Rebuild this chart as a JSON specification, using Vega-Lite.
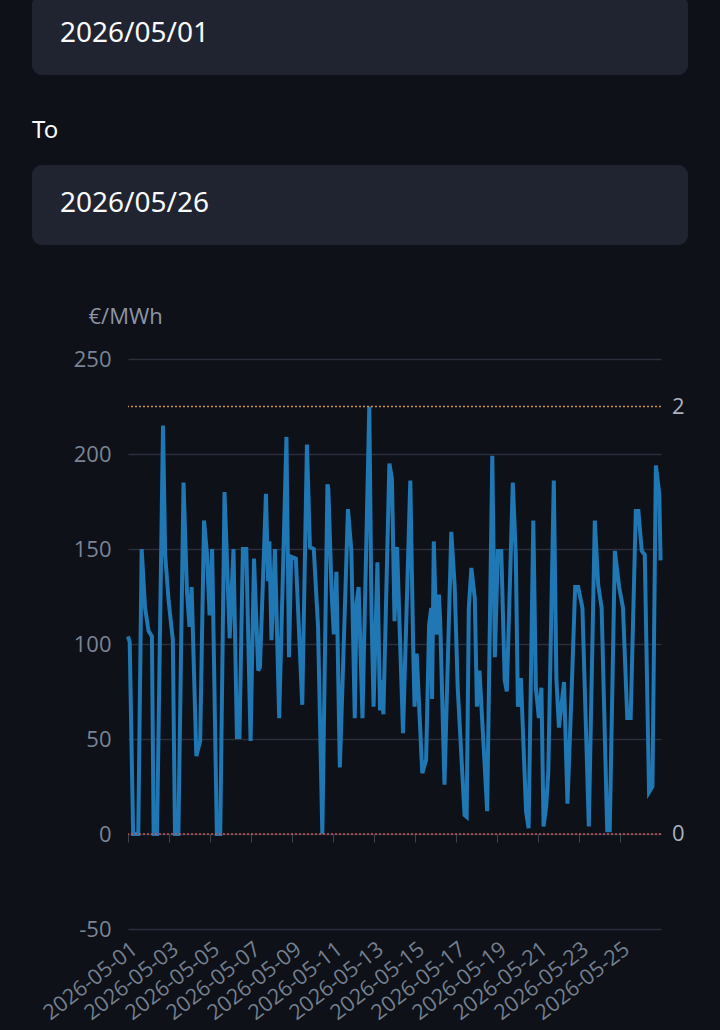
{
  "$schema": "https://vega.github.io/schema/vega-lite/v6.json",
  "background": "#0e1117",
  "padding": {"left": 32, "top": -5, "right": 32, "bottom": 8},
  "spacing": 60,
  "config": {"view": {"stroke": null}, "font": "Open Sans"},
  "vconcat": [
    {
      "width": 533,
      "height": 245,
      "data": {"values": [{"field": "From", "date": "2026/05/01"}, {"field": "To", "date": "2026/05/26"}]},
      "encoding": {
        "y": {"field": "field", "type": "nominal", "axis": null,
              "scale": {"type": "band", "domain": ["From", "To"], "range": [-5, 245], "paddingInner": 0.529, "paddingOuter": 0}}
      },
      "layer": [
        {"mark": {"type": "rect", "fill": "#1f2430", "cornerRadius": 10},
         "encoding": {"x": {"value": -96}, "x2": {"value": 560}}},
        {"transform": [{"filter": "datum.field === 'To'"}],
         "mark": {"type": "text", "align": "left", "baseline": "middle", "dy": -74, "fontSize": 24, "color": "#fafafa", "font": "Noto Sans"},
         "encoding": {"x": {"value": -96}, "text": {"field": "field"}}},
        {"mark": {"type": "text", "align": "left", "baseline": "middle", "dy": -1, "fontSize": 28, "color": "#fafafa", "font": "Noto Sans"},
         "encoding": {"x": {"value": -68}, "text": {"field": "date"}}}
      ]
    },
    {
      "width": 533,
      "height": 570,
      "encoding": {
        "y": {"field": "v", "type": "quantitative",
              "scale": {"domain": [-50, 250], "nice": false, "zero": false},
              "axis": {"values": [-50, 0, 50, 100, 150, 200, 250], "labelExpr": "'' + datum.value", "grid": true, "gridColor": "#2a2f3a", "gridWidth": 1.5,
                       "domain": false, "ticks": false, "labelFontSize": 22, "labelColor": "#7a8494", "labelPadding": 17,
                       "title": "€/MWh", "titleAngle": 0, "titleAlign": "left", "titleBaseline": "alphabetic",
                       "titleX": -40, "titleY": -36, "titleFontSize": 22, "titleFontWeight": "normal", "titleColor": "#8c95a5"}}
      },
      "layer": [
        {
          "data": {
            "format": {"parse": {"t": "utc:'%Y-%m-%d %H:%M'"}},
            "values": [
              {"t": "2026-05-01 00:00", "v": 104}, {"t": "2026-05-01 02:00", "v": 101}, {"t": "2026-05-01 06:00", "v": 0}, {"t": "2026-05-01 12:00", "v": 0},
              {"t": "2026-05-01 16:00", "v": 150}, {"t": "2026-05-01 20:00", "v": 119}, {"t": "2026-05-02 00:00", "v": 107}, {"t": "2026-05-02 04:00", "v": 104},
              {"t": "2026-05-02 06:00", "v": 0}, {"t": "2026-05-02 10:00", "v": 0}, {"t": "2026-05-02 17:00", "v": 215}, {"t": "2026-05-02 19:30", "v": 147},
              {"t": "2026-05-02 23:30", "v": 123}, {"t": "2026-05-03 04:30", "v": 102}, {"t": "2026-05-03 07:00", "v": 0}, {"t": "2026-05-03 11:00", "v": 0},
              {"t": "2026-05-03 17:00", "v": 185}, {"t": "2026-05-03 21:00", "v": 128}, {"t": "2026-05-04 00:00", "v": 109}, {"t": "2026-05-04 02:30", "v": 130},
              {"t": "2026-05-04 08:00", "v": 41}, {"t": "2026-05-04 12:30", "v": 49}, {"t": "2026-05-04 17:00", "v": 165}, {"t": "2026-05-04 20:30", "v": 147},
              {"t": "2026-05-04 23:30", "v": 115}, {"t": "2026-05-05 02:30", "v": 150}, {"t": "2026-05-05 08:00", "v": 0}, {"t": "2026-05-05 12:00", "v": 0},
              {"t": "2026-05-05 17:00", "v": 180}, {"t": "2026-05-05 19:30", "v": 149}, {"t": "2026-05-05 23:00", "v": 103}, {"t": "2026-05-06 03:30", "v": 150},
              {"t": "2026-05-06 07:30", "v": 51}, {"t": "2026-05-06 10:30", "v": 51}, {"t": "2026-05-06 14:30", "v": 150}, {"t": "2026-05-06 18:30", "v": 150},
              {"t": "2026-05-06 20:00", "v": 119}, {"t": "2026-05-06 23:30", "v": 49}, {"t": "2026-05-07 03:30", "v": 145}, {"t": "2026-05-07 08:30", "v": 86},
              {"t": "2026-05-07 10:30", "v": 88}, {"t": "2026-05-07 17:30", "v": 179}, {"t": "2026-05-07 20:00", "v": 133}, {"t": "2026-05-07 21:30", "v": 154},
              {"t": "2026-05-08 00:00", "v": 102}, {"t": "2026-05-08 04:00", "v": 150}, {"t": "2026-05-08 09:00", "v": 61}, {"t": "2026-05-08 17:30", "v": 209},
              {"t": "2026-05-08 20:30", "v": 93}, {"t": "2026-05-08 23:00", "v": 146}, {"t": "2026-05-09 04:30", "v": 145}, {"t": "2026-05-09 12:00", "v": 68},
              {"t": "2026-05-09 17:30", "v": 205}, {"t": "2026-05-09 21:00", "v": 151}, {"t": "2026-05-10 01:30", "v": 150}, {"t": "2026-05-10 06:30", "v": 109},
              {"t": "2026-05-10 11:30", "v": 0}, {"t": "2026-05-10 17:30", "v": 184}, {"t": "2026-05-10 18:30", "v": 182}, {"t": "2026-05-10 22:30", "v": 126},
              {"t": "2026-05-11 01:00", "v": 105}, {"t": "2026-05-11 04:00", "v": 138}, {"t": "2026-05-11 08:00", "v": 35}, {"t": "2026-05-11 11:00", "v": 77},
              {"t": "2026-05-11 17:30", "v": 171}, {"t": "2026-05-11 21:30", "v": 149}, {"t": "2026-05-12 01:30", "v": 61}, {"t": "2026-05-12 03:30", "v": 121},
              {"t": "2026-05-12 06:00", "v": 130}, {"t": "2026-05-12 10:30", "v": 61}, {"t": "2026-05-12 18:30", "v": 225}, {"t": "2026-05-12 21:00", "v": 119},
              {"t": "2026-05-12 23:30", "v": 67}, {"t": "2026-05-13 04:00", "v": 143}, {"t": "2026-05-13 07:00", "v": 65}, {"t": "2026-05-13 09:00", "v": 81},
              {"t": "2026-05-13 11:00", "v": 63}, {"t": "2026-05-13 18:00", "v": 195}, {"t": "2026-05-13 21:00", "v": 187}, {"t": "2026-05-14 00:00", "v": 112},
              {"t": "2026-05-14 03:00", "v": 151}, {"t": "2026-05-14 10:00", "v": 53}, {"t": "2026-05-14 18:30", "v": 186}, {"t": "2026-05-14 22:00", "v": 95},
              {"t": "2026-05-14 23:30", "v": 67}, {"t": "2026-05-15 02:00", "v": 95}, {"t": "2026-05-15 08:30", "v": 32}, {"t": "2026-05-15 13:00", "v": 39},
              {"t": "2026-05-15 16:30", "v": 110}, {"t": "2026-05-15 19:00", "v": 119}, {"t": "2026-05-15 20:00", "v": 71}, {"t": "2026-05-15 22:00", "v": 154},
              {"t": "2026-05-16 01:00", "v": 105}, {"t": "2026-05-16 04:00", "v": 126}, {"t": "2026-05-16 05:30", "v": 112}, {"t": "2026-05-16 10:30", "v": 26},
              {"t": "2026-05-16 18:30", "v": 159}, {"t": "2026-05-16 22:30", "v": 130}, {"t": "2026-05-17 02:00", "v": 77}, {"t": "2026-05-17 10:00", "v": 10},
              {"t": "2026-05-17 12:30", "v": 9}, {"t": "2026-05-17 15:00", "v": 119}, {"t": "2026-05-17 18:00", "v": 140}, {"t": "2026-05-17 22:00", "v": 124},
              {"t": "2026-05-18 00:30", "v": 67}, {"t": "2026-05-18 03:30", "v": 86}, {"t": "2026-05-18 12:30", "v": 12}, {"t": "2026-05-18 18:30", "v": 199},
              {"t": "2026-05-18 21:30", "v": 93}, {"t": "2026-05-19 01:00", "v": 149}, {"t": "2026-05-19 05:00", "v": 149}, {"t": "2026-05-19 09:00", "v": 81},
              {"t": "2026-05-19 11:30", "v": 75}, {"t": "2026-05-19 18:30", "v": 185}, {"t": "2026-05-19 22:00", "v": 147}, {"t": "2026-05-20 00:30", "v": 67},
              {"t": "2026-05-20 04:00", "v": 82}, {"t": "2026-05-20 10:00", "v": 12}, {"t": "2026-05-20 13:00", "v": 3}, {"t": "2026-05-20 18:30", "v": 165},
              {"t": "2026-05-20 21:30", "v": 77}, {"t": "2026-05-21 01:00", "v": 61}, {"t": "2026-05-21 04:00", "v": 77}, {"t": "2026-05-21 06:30", "v": 4},
              {"t": "2026-05-21 09:30", "v": 14}, {"t": "2026-05-21 12:00", "v": 32}, {"t": "2026-05-21 18:30", "v": 186}, {"t": "2026-05-21 21:30", "v": 82},
              {"t": "2026-05-22 00:30", "v": 56}, {"t": "2026-05-22 06:30", "v": 80}, {"t": "2026-05-22 10:30", "v": 16}, {"t": "2026-05-22 15:30", "v": 77},
              {"t": "2026-05-22 19:30", "v": 130}, {"t": "2026-05-22 23:00", "v": 130}, {"t": "2026-05-23 04:00", "v": 119}, {"t": "2026-05-23 11:30", "v": 4},
              {"t": "2026-05-23 18:30", "v": 165}, {"t": "2026-05-23 22:30", "v": 131}, {"t": "2026-05-24 02:30", "v": 119}, {"t": "2026-05-24 09:00", "v": 2},
              {"t": "2026-05-24 12:00", "v": 2}, {"t": "2026-05-24 18:00", "v": 149}, {"t": "2026-05-24 23:00", "v": 130}, {"t": "2026-05-25 03:30", "v": 119},
              {"t": "2026-05-25 08:30", "v": 61}, {"t": "2026-05-25 12:30", "v": 61}, {"t": "2026-05-25 18:30", "v": 170}, {"t": "2026-05-25 21:30", "v": 170},
              {"t": "2026-05-26 01:30", "v": 149}, {"t": "2026-05-26 05:00", "v": 147}, {"t": "2026-05-26 10:00", "v": 22}, {"t": "2026-05-26 14:00", "v": 25},
              {"t": "2026-05-26 18:00", "v": 194}, {"t": "2026-05-26 22:00", "v": 179}, {"t": "2026-05-26 23:30", "v": 144}
            ]
          },
          "mark": {"type": "line", "color": "#1f77b4", "strokeWidth": 4},
          "encoding": {
            "x": {"field": "t", "type": "temporal",
                  "scale": {"type": "utc", "domain": [{"year": 2026, "month": 5, "date": 1, "utc": true}, {"year": 2026, "month": 5, "date": 27, "utc": true}]},
                  "axis": {"orient": "bottom", "title": null,
                           "values": [{"year": 2026, "month": 5, "date": 1, "utc": true}, {"year": 2026, "month": 5, "date": 3, "utc": true}, {"year": 2026, "month": 5, "date": 5, "utc": true}, {"year": 2026, "month": 5, "date": 7, "utc": true}, {"year": 2026, "month": 5, "date": 9, "utc": true}, {"year": 2026, "month": 5, "date": 11, "utc": true}, {"year": 2026, "month": 5, "date": 13, "utc": true}, {"year": 2026, "month": 5, "date": 15, "utc": true}, {"year": 2026, "month": 5, "date": 17, "utc": true}, {"year": 2026, "month": 5, "date": 19, "utc": true}, {"year": 2026, "month": 5, "date": 21, "utc": true}, {"year": 2026, "month": 5, "date": 23, "utc": true}, {"year": 2026, "month": 5, "date": 25, "utc": true}],
                           "format": "%Y-%m-%d", "labelAngle": -38, "labelFontSize": 21.5, "labelColor": "#74808f", "labelPadding": 9,
                           "labelOverlap": false, "labelFlush": false, "labelBound": false, "ticks": false, "domain": false, "grid": false}}
          }
        },
        {
          "data": {"values": [{"name": "max", "v": 225, "label": "225"}, {"name": "min", "v": 0, "label": "0"}]},
          "mark": {"type": "rule", "strokeDash": [2, 2], "strokeWidth": 1.5},
          "encoding": {"color": {"field": "name", "type": "nominal", "scale": {"domain": ["max", "min"], "range": ["#d0903c", "#c25a5c"]}, "legend": null}}
        },
        {
          "data": {"values": [{"name": "max", "v": 225, "label": "225"}, {"name": "min", "v": 0, "label": "0"}]},
          "mark": {"type": "text", "align": "left", "baseline": "middle", "dx": 11, "fontSize": 22, "color": "#aab2be", "limit": 20, "ellipsis": " "},
          "encoding": {
            "x": {"datum": {"year": 2026, "month": 5, "date": 27, "utc": true}, "type": "temporal", "scale": {"type": "utc"},
                  "axis": {"orient": "bottom", "title": null, "offset": -95,
                           "values": [{"year": 2026, "month": 5, "date": 1, "utc": true}, {"year": 2026, "month": 5, "date": 3, "utc": true}, {"year": 2026, "month": 5, "date": 5, "utc": true}, {"year": 2026, "month": 5, "date": 7, "utc": true}, {"year": 2026, "month": 5, "date": 9, "utc": true}, {"year": 2026, "month": 5, "date": 11, "utc": true}, {"year": 2026, "month": 5, "date": 13, "utc": true}, {"year": 2026, "month": 5, "date": 15, "utc": true}, {"year": 2026, "month": 5, "date": 17, "utc": true}, {"year": 2026, "month": 5, "date": 19, "utc": true}, {"year": 2026, "month": 5, "date": 21, "utc": true}, {"year": 2026, "month": 5, "date": 23, "utc": true}, {"year": 2026, "month": 5, "date": 25, "utc": true}],
                           "labels": false, "ticks": true, "tickSize": 8, "tickColor": "#3b4250", "tickWidth": 1, "domain": false, "grid": false}},
            "text": {"field": "label"}
          }
        }
      ],
      "resolve": {"axis": {"x": "independent"}}
    }
  ]
}
